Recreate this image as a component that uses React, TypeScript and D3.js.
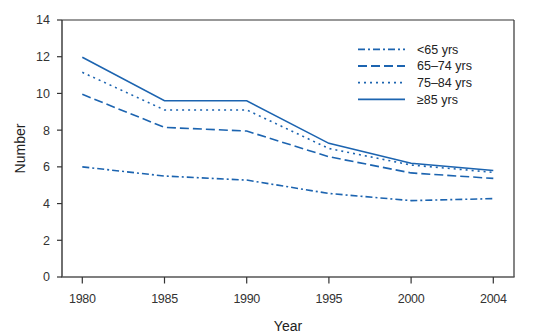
import React from "react";
import * as d3 from "d3";

const years = ["1980", "1985", "1990", "1995", "2000", "2004"];
const seriesNames = ["<65 yrs", "65\u201374 yrs", "75\u201384 yrs", "\u226585 yrs"];
const under65 = [6.0, 5.5, 5.28, 4.55, 4.16, 4.27];
const age65to74 = [9.95, 8.15, 7.95, 6.55, 5.67, 5.37];
const age75to84 = [11.15, 9.1, 9.1, 7.0, 6.1, 5.7];
const age85plus = [11.97, 9.6, 9.6, 7.28, 6.2, 5.8];
const yTicks = [0, 2, 4, 6, 8, 10, 12, 14];

const dashes = ["7,3,2,3", "9,4", "2,4", ""];
const COLOR = "#1c64b0";
const AXIS = "#333";
const FONT = "Liberation Sans, Arial, Helvetica, sans-serif";

export default function App() {
  const W = 554, H = 336;
  const left = 62, right = 514, top = 20, bottom = 277;
  const x = d3.scalePoint<string>().domain(years).range([82.3, 493.3]);
  const y = d3.scaleLinear().domain([0, 14]).range([bottom, top]);
  const data = [under65, age65to74, age75to84, age85plus];
  const line = d3
    .line<number>()
    .x((_, i) => x(years[i]) as number)
    .y((d) => y(d));

  const legendX0 = 358, legendX1 = 405, legendY0 = 49.3, legendDy = 16.7;

  return (
    <svg
      width={W}
      height={H}
      style={{ position: "absolute", left: 0, top: 0, background: "#fff" }}
      fontFamily={FONT}
    >
      {/* frame */}
      <line x1={left} x2={right} y1={top} y2={top} stroke={AXIS} strokeWidth={1.2} />
      <line x1={right} x2={right} y1={top} y2={bottom} stroke={AXIS} strokeWidth={1.2} />
      <line x1={left} x2={left} y1={top} y2={bottom} stroke={AXIS} strokeWidth={1.4} />
      <line x1={left - 0.7} x2={right + 0.6} y1={bottom} y2={bottom} stroke="#555" strokeWidth={1.6} />

      {/* y ticks */}
      {yTicks.map((t) => (
        <g key={t}>
          <line x1={left - 5} x2={left} y1={y(t)} y2={y(t)} stroke={AXIS} strokeWidth={1.2} />
          <text x={50} y={y(t)} dy="0.35em" textAnchor="end" fontSize={12.5} fill="#333">
            {t}
          </text>
        </g>
      ))}

      {/* x ticks */}
      {years.map((yr) => (
        <g key={yr}>
          <line x1={x(yr)} x2={x(yr)} y1={bottom} y2={bottom + 6.5} stroke={AXIS} strokeWidth={1.2} />
          <text x={x(yr)} y={303} textAnchor="middle" fontSize={12.5} fill="#333" letterSpacing={-0.3}>
            {yr}
          </text>
        </g>
      ))}

      {/* axis titles */}
      <text
        transform={`translate(25,${(top + bottom) / 2}) rotate(-90)`}
        textAnchor="middle"
        fontSize={14}
        fill="#222"
      >
        Number
      </text>
      <text x={(left + right) / 2} y={331} textAnchor="middle" fontSize={14} fill="#222">
        Year
      </text>

      {/* lines */}
      {data.map((s, i) => (
        <path
          key={i}
          d={line(s) || ""}
          fill="none"
          stroke={COLOR}
          strokeWidth={1.6}
          strokeDasharray={dashes[i] || undefined}
        />
      ))}

      {/* legend */}
      {seriesNames.map((name, i) => {
        const ly = legendY0 + i * legendDy;
        return (
          <g key={name}>
            <line
              x1={legendX0}
              x2={legendX1}
              y1={ly}
              y2={ly}
              stroke={COLOR}
              strokeWidth={1.8}
              strokeDasharray={dashes[i] || undefined}
            />
            <text x={417} y={ly} dy="0.35em" fontSize={12.5} fill="#222">
              {name}
            </text>
          </g>
        );
      })}
    </svg>
  );
}
